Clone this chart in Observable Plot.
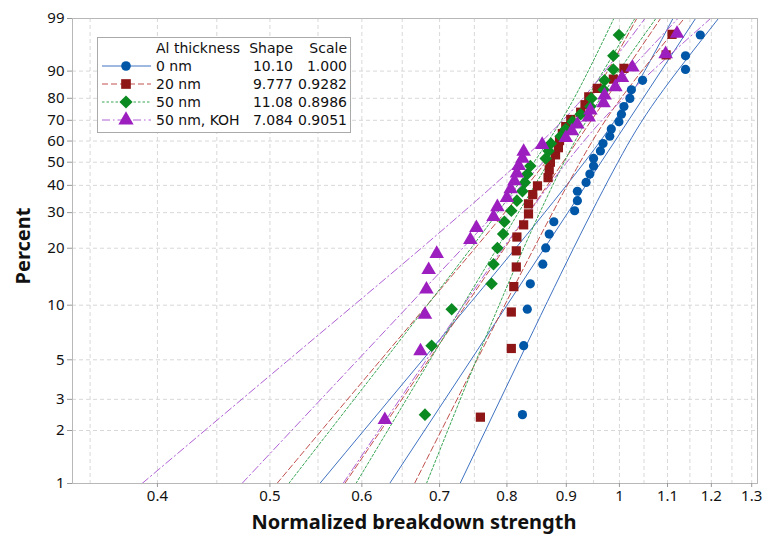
<!DOCTYPE html>
<html><head><meta charset="utf-8">
<script src="https://cdn.jsdelivr.net/npm/d3@7"></script>
<script src="https://cdn.jsdelivr.net/npm/@observablehq/plot@0.6"></script>
<style>
body{margin:0;background:#fff;font-family:"Noto Sans",sans-serif;}
#wrap{position:relative;width:764px;height:536px;overflow:hidden;}
.ttl{position:absolute;font-weight:bold;color:#111;white-space:nowrap;}
#legend{position:absolute;left:97px;top:37px;width:252px;height:94px;border:1px solid #aaa;background:#fff;font-family:"DejaVu Sans",sans-serif;font-size:14px;color:#111;}
#legend .c{position:absolute;white-space:nowrap;line-height:15px;}
</style></head><body><div id="wrap"></div>
<script>
// ---- data ----
const seriesNames = ["0 nm", "20 nm", "50 nm", "50 nm, KOH"];
const shapeLabels = ["10.10", "9.777", "11.08", "7.084"];
const scaleLabels = ["1.000", "0.9282", "0.8986", "0.9051"];
// plotting positions (percent) of the points of each sample
const percent28 = [2.46, 5.99, 9.51, 13.03, 16.55, 20.07, 23.59, 27.11, 30.63, 34.15, 37.68, 41.20, 44.72, 48.24, 51.76, 55.28, 58.80, 62.32, 65.85, 69.37, 72.89, 76.41, 79.93, 83.45, 86.97, 90.49, 94.01, 97.54];
const percent29 = [2.38, 5.78, 9.18, 12.59, 15.99, 19.39, 22.79, 26.19, 29.59, 32.99, 36.39, 39.80, 43.20, 46.60, 50.00, 53.40, 56.80, 60.20, 63.61, 67.01, 70.41, 73.81, 77.21, 80.61, 84.01, 87.41, 90.82, 94.22, 97.62];
const percent30 = [2.30, 5.59, 8.88, 12.17, 15.46, 18.75, 22.04, 25.33, 28.62, 31.91, 35.20, 38.49, 41.78, 45.07, 48.36, 51.64, 54.93, 58.22, 61.51, 64.80, 68.09, 71.38, 74.67, 77.96, 81.25, 84.54, 87.83, 91.12, 94.41, 97.70];
const strength0nm = [0.825, 0.827, 0.833, 0.838, 0.859, 0.864, 0.870, 0.878, 0.915, 0.920, 0.920, 0.936, 0.943, 0.950, 0.950, 0.963, 0.968, 0.981, 0.984, 0.999, 1.004, 1.009, 1.021, 1.024, 1.047, 1.140, 1.140, 1.174];
const strength20nm = [0.759, 0.807, 0.807, 0.811, 0.815, 0.815, 0.816, 0.827, 0.835, 0.835, 0.842, 0.850, 0.868, 0.870, 0.872, 0.881, 0.886, 0.888, 0.893, 0.899, 0.908, 0.926, 0.934, 0.941, 0.957, 0.988, 1.009, 1.097, 1.110];
const strength50nm = [0.680, 0.689, 0.717, 0.776, 0.779, 0.785, 0.794, 0.796, 0.807, 0.816, 0.825, 0.829, 0.833, 0.838, 0.864, 0.869, 0.873, 0.890, 0.899, 0.911, 0.926, 0.944, 0.946, 0.969, 0.971, 0.988, 0.988, 0.999];
const strengthKOH = [0.628, 0.674, 0.680, 0.682, 0.685, 0.696, 0.744, 0.753, 0.779, 0.785, 0.800, 0.806, 0.812, 0.816, 0.819, 0.825, 0.827, 0.858, 0.899, 0.910, 0.920, 0.941, 0.944, 0.969, 0.971, 0.992, 1.005, 1.026, 1.096, 1.121];

// fitted lines (ends at 1% and 99%) and confidence bounds
const fitPercent = [1, 99];
const fit0nm = [0.634, 1.163];
const fit20nm = [0.580, 1.085];
const fit50nm = [0.593, 1.031];
const fitKOH = [0.473, 1.123];
const boundPercent = [1, 5, 20, 50, 80, 99];
const lower0nm = [0.552, 0.677, 0.814, 0.933, 1.019, 1.112];
const upper0nm = [0.729, 0.820, 0.913, 0.997, 1.078, 1.217];
const lower20nm = [0.507, 0.623, 0.751, 0.864, 0.946, 1.035];
const upper20nm = [0.666, 0.754, 0.844, 0.925, 1.003, 1.137];
const lower50nm = [0.519, 0.628, 0.745, 0.844, 0.914, 0.989];
const upper50nm = [0.682, 0.753, 0.827, 0.896, 0.963, 1.075];
const lowerKOH = [0.388, 0.519, 0.675, 0.820, 0.930, 1.052];
const upperKOH = [0.578, 0.682, 0.794, 0.901, 1.008, 1.198];

const xTicks = [0.4, 0.5, 0.6, 0.7, 0.8, 0.9, 1, 1.1, 1.2, 1.3];
const xGridValues = [0.35, 0.4, 0.45, 0.5, 0.55, 0.6, 0.65, 0.7, 0.75, 0.8, 0.85, 0.9, 0.95, 1, 1.05, 1.1, 1.15, 1.2, 1.25, 1.3];
const yTicks = [1, 2, 3, 5, 10, 20, 30, 40, 50, 60, 70, 80, 90, 99];
const yGridValues = [2, 3, 5, 10, 20, 30, 40, 50, 60, 70, 80, 90];

// ---- styling ----
const markerColors = ["#0057a8", "#8e1616", "#0b8a22", "#9c1ebf"];
const lineColors = ["#3f72c2", "#c0504d", "#3aa655", "#b060d4"];
const dashes = [null, "6,3", "2.5,2", "8,3,1.5,3"];
const diamond = {draw(ctx, size) {const s = Math.sqrt(size / 2); ctx.moveTo(0, -s); ctx.lineTo(s, 0); ctx.lineTo(0, s); ctx.lineTo(-s, 0); ctx.closePath();}};
const symbols = [d3.symbolCircle, d3.symbolSquare, diamond, d3.symbolTriangle];
const radii = [4.6, 5.2, 5.0, 5.4];

// Weibull probability transform
const wb = p => Math.log(-Math.log(1 - p / 100));
const yLabel = new Map(yTicks.map(p => [wb(p), String(p)]));

const strengths = [strength0nm, strength20nm, strength50nm, strengthKOH];
const percents = [percent28, percent29, percent28, percent30];
const fits = [fit0nm, fit20nm, fit50nm, fitKOH];
const lowers = [lower0nm, lower20nm, lower50nm, lowerKOH];
const uppers = [upper0nm, upper20nm, upper50nm, upperKOH];

const marks = [
  Plot.gridX(xGridValues, {stroke: "#d8d8d8", strokeOpacity: 1, strokeDasharray: "4,3"}),
  Plot.gridY(yGridValues.map(wb), {stroke: "#d8d8d8", strokeOpacity: 1, strokeDasharray: "4,3"}),
];
for (let s = 0; s < 4; s++) {
  const rows = [];
  fits[s].forEach((v, i) => rows.push({k: "fit", v, w: wb(fitPercent[i])}));
  lowers[s].forEach((v, i) => rows.push({k: "lo", v, w: wb(boundPercent[i])}));
  uppers[s].forEach((v, i) => rows.push({k: "hi", v, w: wb(boundPercent[i])}));
  marks.push(Plot.line(rows, {x: "v", y: "w", z: "k", stroke: lineColors[s], strokeWidth: 1, strokeDasharray: dashes[s], curve: "natural"}));
}
for (let s = 0; s < 4; s++) {
  const pts = strengths[s].map((v, i) => ({v, w: wb(percents[s][i])}));
  marks.push(Plot.dot(pts, {x: "v", y: "w", symbol: symbols[s], r: radii[s], fill: markerColors[s], stroke: "none"}));
}
marks.push(
  Plot.frame({stroke: "#b8b8b8"}),
  Plot.axisX({ticks: xTicks, tickFormat: d => String(d), tickSize: 4, tickPadding: 3, stroke: "#999", fill: "#111", label: null}),
  Plot.axisY({ticks: yTicks.map(wb), tickFormat: d => yLabel.get(d), tickSize: 5, tickPadding: 3, stroke: "#999", fill: "#111", label: null})
);

const chart = Plot.plot({
  width: 764, height: 536,
  marginLeft: 72, marginRight: 7, marginTop: 18, marginBottom: 53,
  style: {fontFamily: "'Noto Sans', sans-serif", fontSize: "15px", background: "#fff", color: "#111"},
  x: {type: "log", domain: [0.338, 1.315]},
  y: {type: "linear", domain: [wb(1), wb(99)]},
  marks
});
const wrap = document.getElementById("wrap");
wrap.appendChild(chart);

// axis titles
const xt = document.createElement("div");
xt.className = "ttl"; xt.textContent = "Normalized breakdown strength";
xt.style.cssText = "font-size:20px;left:414px;top:508px;transform:translateX(-50%);";
wrap.appendChild(xt);
const yt = document.createElement("div");
yt.className = "ttl"; yt.textContent = "Percent";
yt.style.cssText = "font-size:20px;left:22px;top:246px;transform:translate(-50%,-50%) rotate(-90deg);";
wrap.appendChild(yt);

// legend
const lg = document.createElement("div");
lg.id = "legend";
const header = ["Al thickness", "Shape", "Scale"];
function cell(text, left, top, right) {
  const d = document.createElement("div");
  d.className = "c"; d.textContent = text; d.style.top = (top + 1.5) + "px";
  if (right) { d.style.right = right + "px"; } else { d.style.left = left + "px"; }
  lg.appendChild(d);
}
cell(header[0], 58, 1); cell(header[1], 0, 1, 57); cell(header[2], 0, 1, 3);
for (let s = 0; s < 4; s++) {
  const top = 19 + s * 18;
  cell(seriesNames[s], 58, top); cell(shapeLabels[s], 0, top, 57); cell(scaleLabels[s], 0, top, 3);
  const ns = "http://www.w3.org/2000/svg";
  const svg = document.createElementNS(ns, "svg");
  svg.setAttribute("width", 52); svg.setAttribute("height", 18);
  svg.style.cssText = `position:absolute;left:3px;top:${top}px;`;
  const ln = document.createElementNS(ns, "line");
  ln.setAttribute("x1", 1); ln.setAttribute("x2", 50); ln.setAttribute("y1", 9); ln.setAttribute("y2", 9);
  ln.setAttribute("stroke", lineColors[s]); if (dashes[s]) ln.setAttribute("stroke-dasharray", dashes[s]);
  svg.appendChild(ln);
  const p = document.createElementNS(ns, "path");
  p.setAttribute("d", d3.symbol(symbols[s], Math.PI * radii[s] * radii[s] * 1.1)());
  p.setAttribute("transform", "translate(25,9)");
  p.setAttribute("fill", markerColors[s]);
  svg.appendChild(p);
  lg.appendChild(svg);
}
wrap.appendChild(lg);
</script>
</body></html>
